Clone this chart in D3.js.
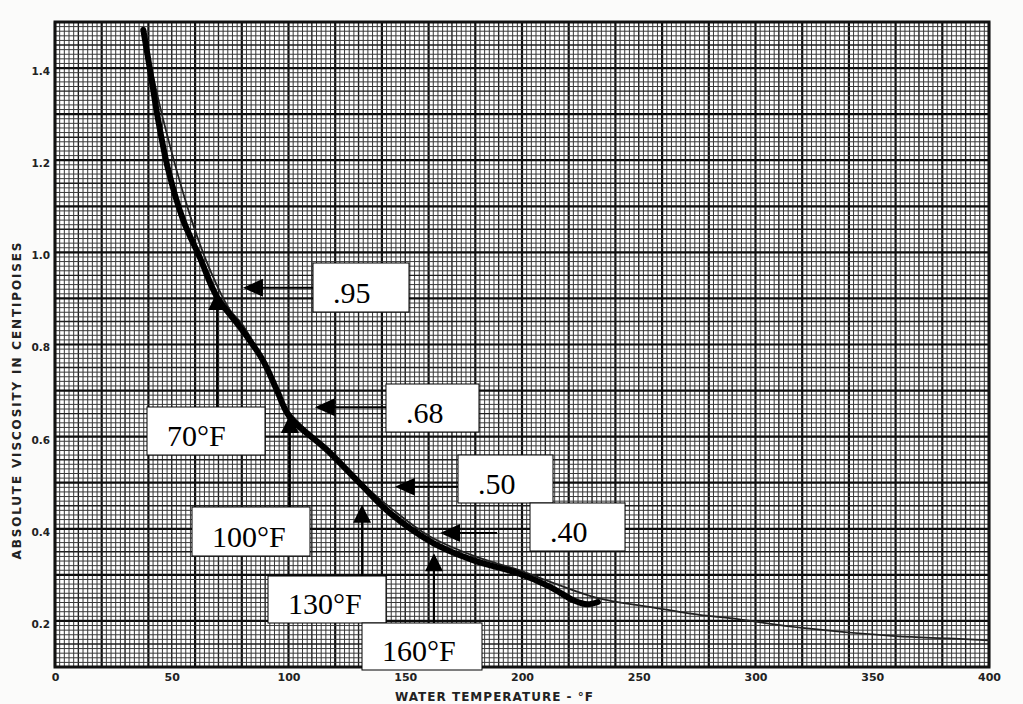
<!DOCTYPE html>
<html><head><meta charset="utf-8">
<script src="https://cdn.jsdelivr.net/npm/d3@7"></script>
<style>body{margin:0;background:#fff;overflow:hidden}</style>
</head><body><svg id="c" width="1023" height="704"></svg>
<script>
// ---- data ----
const xTicks = [0, 50, 100, 150, 200, 250, 300, 350, 400];
const xTickLabels = ["0", "50", "100", "150", "200", "250", "300", "350", "400"];
const yTicks = [0.2, 0.4, 0.6, 0.8, 1.0, 1.2, 1.4];
const yTickLabels = ["0.2", "0.4", "0.6", "0.8", "1.0", "1.2", "1.4"];

// printed (thin) viscosity curve
const printedTemp = [37.8, 46.4, 58.5, 66.4, 74.9, 80, 86, 92, 100, 115, 130, 145, 160, 180, 200, 213, 232, 255, 276, 289, 320, 360, 383, 400];
const printedVisc = [1.483, 1.287, 1.070, 0.962, 0.875, 0.845, 0.795, 0.735, 0.655, 0.58, 0.505, 0.44, 0.385, 0.34, 0.308, 0.283, 0.25, 0.230, 0.213, 0.206, 0.185, 0.167, 0.162, 0.158];

// hand-traced (thick) curve
const tracedTemp = [37.8, 40.7, 44.2, 48.5, 54.9, 62.1, 69.4, 79.2, 89, 95, 100.5, 116.5, 130.5, 143.5, 162, 179, 198, 212, 222, 228, 232.5];
const tracedVisc = [1.483, 1.396, 1.287, 1.179, 1.070, 0.988, 0.903, 0.838, 0.766, 0.701, 0.643, 0.571, 0.499, 0.434, 0.369, 0.332, 0.304, 0.274, 0.245, 0.236, 0.241];

// callouts: viscosity values (horizontal arrows)
const valueLabels = [".95", ".68", ".50", ".40"];
const valueTipTemp = [80.5, 111.3, 145.6, 164.9];
const valueTipVisc = [0.923, 0.664, 0.491, 0.391];
// callouts: temperatures (vertical arrows)
const tempLabels = ["70°F", "100°F", "130°F", "160°F"];
const tempTipTemp = [69.4, 100.6, 131.5, 162.3];
const tempTipVisc = [0.914, 0.647, 0.452, 0.347];

const xTitle = "WATER TEMPERATURE - °F";
const yTitle = "ABSOLUTE VISCOSITY IN CENTIPOISES";

// ---- layout (pixel boxes for callouts) ----
const valueBoxes = [
  {x: 313, y: 263, w: 96, h: 49, lineEnd: 313},
  {x: 386, y: 384, w: 93, h: 48, lineEnd: 386},
  {x: 458, y: 455, w: 95, h: 48, lineEnd: 458},
  {x: 530, y: 503, w: 95, h: 48, lineEnd: 497}
];
const tempBoxes = [
  {x: 147, y: 407, w: 118, h: 48},
  {x: 192, y: 507, w: 118, h: 49},
  {x: 268, y: 576, w: 118, h: 47},
  {x: 362, y: 623, w: 120, h: 47}
];

const svg = d3.select("#c");
svg.append("rect").attr("width", 1023).attr("height", 704).attr("fill", "#fbfbfa");

const x = d3.scaleLinear().domain([0, 400]).range([55, 989]);
const y = d3.scaleLinear().domain([0.1, 1.5]).range([667, 22]);

// paper
svg.append("rect").attr("x", x(0)).attr("y", y(1.5)).attr("width", x(400) - x(0)).attr("height", y(0.1) - y(1.5)).attr("fill", "#fff");

const g = svg.append("g");
const fineX = d3.range(0, 401, 2), fineY = d3.range(10, 151, 1).map(d => d / 100);
function level(i, majorEvery, medEvery) {
  if (i % majorEvery === 0) return 2;
  if (i % medEvery === 0) return 1;
  return 0;
}
const stroke = ["#383838", "#1e1e1e", "#0e0e0e"], widths = [1.0, 1.4, 2.2];
fineX.forEach((t) => {
  const l = level(t, 20, 10);
  g.append("line").attr("x1", x(t)).attr("x2", x(t)).attr("y1", y(0.1)).attr("y2", y(1.5))
    .attr("stroke", stroke[l]).attr("stroke-width", widths[l]);
});
fineY.forEach((v) => {
  const k = Math.round(v * 100);
  const l = level(k, 10, 5);
  g.append("line").attr("y1", y(v)).attr("y2", y(v)).attr("x1", x(0)).attr("x2", x(400))
    .attr("stroke", stroke[l]).attr("stroke-width", widths[l]);
});
svg.append("rect").attr("x", x(0)).attr("y", y(1.5)).attr("width", x(400) - x(0)).attr("height", y(0.1) - y(1.5))
  .attr("fill", "none").attr("stroke", "#111").attr("stroke-width", 3);

// axes labels
const xAxis = d3.axisBottom(x).tickValues(xTicks).tickFormat((d, i) => xTickLabels[i]).tickSize(0).tickPadding(6);
const xa = svg.append("g").attr("transform", `translate(0,${y(0.1)})`).call(xAxis);
xa.select(".domain").remove();
xa.selectAll("text").attr("font-family", "DejaVu Sans").attr("font-weight", "bold").attr("font-size", 11).attr("fill", "#222");

const yAxis = d3.axisLeft(y).tickValues(yTicks).tickFormat((d, i) => yTickLabels[i]).tickSize(0).tickPadding(5);
const ya = svg.append("g").attr("transform", `translate(${x(0)},3)`).call(yAxis);
ya.select(".domain").remove();
ya.selectAll("text").attr("font-family", "DejaVu Sans").attr("font-weight", "bold").attr("font-size", 10.5).attr("fill", "#222");

svg.append("text").attr("x", 494).attr("y", 701).attr("text-anchor", "middle")
  .attr("font-family", "DejaVu Sans").attr("font-weight", "bold").attr("font-size", 12).attr("fill", "#222")
  .attr("textLength", 198).attr("lengthAdjust", "spacing").text(xTitle);
svg.append("text").attr("transform", "translate(21,401) rotate(-90)").attr("text-anchor", "middle")
  .attr("font-family", "DejaVu Sans").attr("font-weight", "bold").attr("font-size", 12).attr("fill", "#222")
  .attr("textLength", 317).attr("lengthAdjust", "spacing").text(yTitle);

// curves
const line = d3.line().x(d => x(d[0])).y(d => y(d[1])).curve(d3.curveCatmullRom.alpha(0.5));
svg.append("path").datum(printedTemp.map((t, i) => [t, printedVisc[i]]))
  .attr("d", line).attr("fill", "none").attr("stroke", "#222").attr("stroke-width", 1.8);
svg.append("path").datum(tracedTemp.map((t, i) => [t, tracedVisc[i]]))
  .attr("d", line).attr("fill", "none").attr("stroke", "#000").attr("stroke-width", 6).attr("stroke-linecap", "round");

// callouts - values
valueLabels.forEach((lab, i) => {
  const tx = x(valueTipTemp[i]), ty = y(valueTipVisc[i]), b = valueBoxes[i];
  svg.append("line").attr("x1", tx + 18).attr("x2", b.lineEnd).attr("y1", ty).attr("y2", ty)
    .attr("stroke", "#000").attr("stroke-width", 2);
  svg.append("path").attr("d", `M${tx},${ty}L${tx + 20},${ty - 9}L${tx + 20},${ty + 9}Z`).attr("fill", "#000");
  svg.append("rect").attr("x", b.x).attr("y", b.y).attr("width", b.w).attr("height", b.h)
    .attr("fill", "#fff").attr("stroke", "#000").attr("stroke-width", 1);
  svg.append("text").attr("x", b.x + 20).attr("y", b.y + b.h - 9)
    .attr("font-family", "Liberation Serif").attr("font-size", 30).attr("fill", "#000").text(lab);
});
// callouts - temperatures
tempLabels.forEach((lab, i) => {
  const tx = x(tempTipTemp[i]), ty = y(tempTipVisc[i]), b = tempBoxes[i];
  svg.append("line").attr("x1", tx).attr("x2", tx).attr("y1", ty + 16).attr("y2", b.y)
    .attr("stroke", "#000").attr("stroke-width", 2);
  svg.append("path").attr("d", `M${tx},${ty}L${tx - 9},${ty + 18}L${tx + 9},${ty + 18}Z`).attr("fill", "#000");
  svg.append("rect").attr("x", b.x).attr("y", b.y).attr("width", b.w).attr("height", b.h)
    .attr("fill", "#fff").attr("stroke", "#000").attr("stroke-width", 1);
  svg.append("text").attr("x", b.x + 20).attr("y", b.y + b.h - 9)
    .attr("font-family", "Liberation Serif").attr("font-size", 30).attr("fill", "#000").text(lab);
});
</script>
</body></html>
